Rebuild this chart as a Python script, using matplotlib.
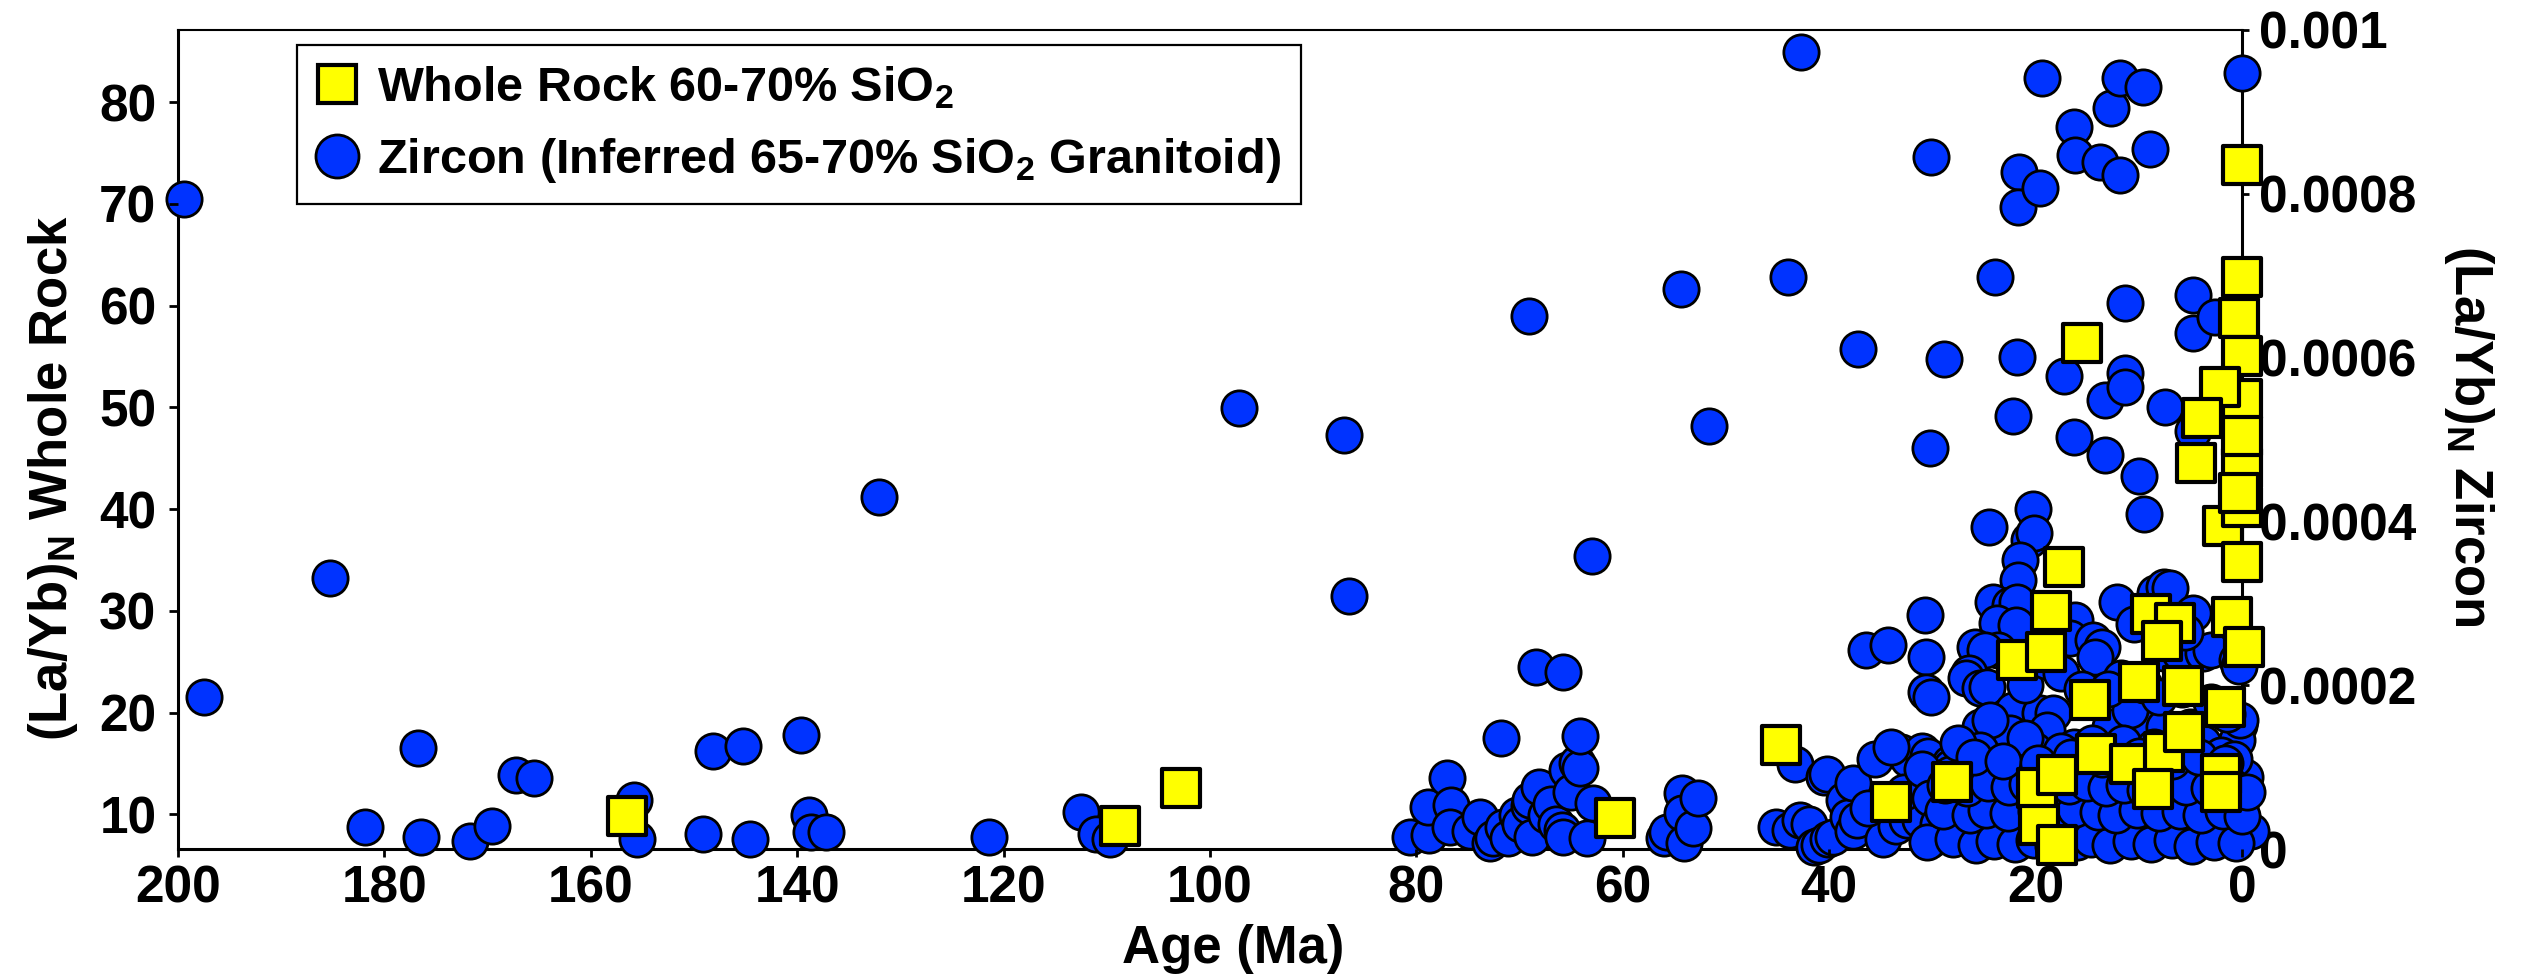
import matplotlib
matplotlib.use('Agg')
import matplotlib.pyplot as plt
from matplotlib.lines import Line2D
from matplotlib.ticker import FuncFormatter

# whole rock (La/Yb)N, 60-70% SiO2  -> left axis
wr_age = [156.5, 108.7, 102.8, 60.8, 44.7, 34.0, 28.1, 17.2, 18.5, 21.8,
          19.0, 14.7, 8.8, 6.5, 7.8, 10.0, 5.7, 1.6, 1.0, -0.2,
          1.8, 0.0, 4.5, 0.0, 0.0, 14.1, 10.9, 7.6, 5.6, 2.0,
          8.6, 19.9, 17.9, 19.7, 17.9, 2.0, 15.5, 0.0, 0.0, 0.3,
          0.0, 0.0, 2.1, 3.9, 0.0, 0.3]
wr_lr = [9.8, 8.9, 12.6, 9.65, 16.8, 11.2, 13.2, 34.3, 30.0, 25.2,
         26.0, 21.2, 29.7, 28.8, 27.0, 23.0, 22.6, 20.6, 29.4, 26.5,
         38.3, 34.8, 44.5, 44.0, 40.2, 15.9, 15.0, 16.1, 18.1, 14.0,
         12.5, 12.6, 13.9, 9.0, 7.0, 12.2, 56.3, 73.8, 62.8, 58.8,
         55.1, 50.8, 52.0, 49.0, 47.2, 41.6]

# zircon (La/Yb)N -> right axis, grouped by age range
zr_age_old = [199.4, 197.5, 185.3, 181.9, 176.7, 176.5, 171.7, 169.6, 167.2, 165.5,
              155.8, 155.5, 149.1, 148.2, 145.3, 144.6, 139.6, 138.9, 138.7, 137.2,
              132.1, 121.4, 112.5, 111.0, 109.7, 108.6, 97.2, 87.0, 86.5]
zr_lr_old = [0.000794, 0.000186, 0.000331, 0.000027, 0.000123, 0.000015, 0.000010, 0.000028, 0.000090, 0.000087,
             0.000060, 0.000012, 0.000018, 0.000120, 0.000126, 0.000012, 0.000139, 0.000041, 0.000021, 0.000021,
             0.000430, 0.000015, 0.000045, 0.000018, 0.000012, 0.000031, 0.000539, 0.000505, 0.000309]

zr_age_lk = [80.6, 78.8, 78.9, 77.0, 76.6, 76.7, 74.8, 73.8, 72.9, 72.6,
             71.6, 71.1, 70.3, 70.0, 69.1, 69.0, 68.8, 68.1, 67.4, 67.0,
             66.5, 65.9, 65.8, 65.4, 65.0, 64.4, 64.1, 63.5, 62.9, 71.8,
             64.1, 68.4, 65.8, 63.0, 69.1, 56.0, 55.7, 54.3, 54.3, 54.1,
             53.2, 52.7, 54.4, 51.6]
zr_lr_lk = [0.000015, 0.000017, 0.000051, 0.000087, 0.000054, 0.000027, 0.000022, 0.000039, 0.000007, 0.000013,
            0.000027, 0.000013, 0.000042, 0.000030, 0.000052, 0.000060, 0.000015, 0.000076, 0.000042, 0.000055,
            0.000030, 0.000023, 0.000015, 0.000096, 0.000070, 0.000105, 0.000099, 0.000013, 0.000056, 0.000135,
            0.000138, 0.000222, 0.000216, 0.000358, 0.000651, 0.000013, 0.000021, 0.000068, 0.000044, 0.000007,
            0.000026, 0.000062, 0.000684, 0.000516]

zr_age_eo = [45.2, 44.0, 43.8, 43.3, 42.8, 42.7, 42.0, 41.5, 41.0, 40.5,
             40.2, 40.1, 39.6, 38.6, 38.2, 37.7, 37.7, 37.2, 37.3, 36.4,
             34.3, 34.8, 33.5, 33.0, 32.5, 32.4, 31.0, 30.4, 31.2, 30.2,
             35.6, 34.0, 32.8, 36.2]
zr_lr_eo = [0.000027, 0.000698, 0.000023, 0.000104, 0.000035, 0.000973, 0.000030, 0.000003, 0.000005, 0.000088,
            0.000092, 0.000012, 0.000015, 0.000060, 0.000039, 0.000081, 0.000022, 0.000610, 0.000035, 0.000243,
            0.000249, 0.000012, 0.000028, 0.000119, 0.000035, 0.000110, 0.000120, 0.000114, 0.000035, 0.000011,
            0.000110, 0.000125, 0.000070, 0.000050]

zr_age_hi = [30.2, 30.1, 28.9, 23.9, 22.2, 21.8, 21.6, 21.7, 19.6, 19.4,
             17.2, 16.3, 16.2, 16.3, 13.8, 13.3, 13.3, 12.7, 11.8, 11.8,
             11.3, 11.3, 11.3, 10.0, 9.6, 9.5, 8.9, 7.5, 4.7, 4.7,
             2.6, 0.0, 4.7]
zr_lr_hi = [0.000490, 0.000845, 0.000598, 0.000698, 0.000529, 0.000601, 0.000827, 0.000784, 0.000807, 0.000941,
            0.000577, 0.000882, 0.000847, 0.000503, 0.000839, 0.000548, 0.000481, 0.000905, 0.000942, 0.000823,
            0.000667, 0.000581, 0.000564, 0.000455, 0.000930, 0.000409, 0.000855, 0.000540, 0.000676, 0.000630,
            0.000650, 0.000947, 0.000510]

zr_age_mid = [24.5, 20.6, 20.3, 20.2, 21.5, 21.7, 24.1, 22.5, 21.8, 23.7,
              21.9, 25.9, 23.6, 24.9, 26.5, 26.7, 25.4, 24.7, 30.7, 30.6,
              30.6, 30.1, 12.1, 8.4, 7.6, 7.0, 4.7, 16.2, 16.7, 14.4,
              13.6, 14.2, 11.7, 7.6, 6.0, 3.8, 3.0, 0.5, 0.3, 0.3,
              0.5, 0.2, 5.0, 22.2, 19.6, 18.3, 18.9, 23.4, 25.4, 20.2,
              16.3, 12.8, 9.9, 7.6, 12.5, 10.9, 22.5, 24.4, 25.4, 28.3,
              28.2, 22.2, 21.0, 19.0, 17.5, 15.5, 13.0, 9.5, 8.0, 5.8,
              3.0, 1.5, 10.5, 5.5]
zr_lr_mid = [0.000393, 0.000377, 0.000415, 0.000386, 0.000353, 0.000328, 0.000302, 0.000298, 0.000302, 0.000276,
             0.000273, 0.000247, 0.000243, 0.000243, 0.000215, 0.000209, 0.000197, 0.000198, 0.000286, 0.000235,
             0.000192, 0.000186, 0.000301, 0.000312, 0.000320, 0.000319, 0.000288, 0.000280, 0.000258, 0.000255,
             0.000247, 0.000235, 0.000209, 0.000239, 0.000239, 0.000239, 0.000243, 0.000231, 0.000224, 0.000151,
             0.000133, 0.000158, 0.000149, 0.000170, 0.000166, 0.000166, 0.000145, 0.000142, 0.000149, 0.000121,
             0.000125, 0.000149, 0.000158, 0.000149, 0.000117, 0.000170, 0.000142, 0.000158, 0.000121, 0.000105,
             0.000100, 0.000109, 0.000200, 0.000230, 0.000215, 0.000195, 0.000195, 0.000200, 0.000185, 0.000195,
             0.000180, 0.000165, 0.000275, 0.000265]

zr_age_low = [31.0, 28.3, 25.4, 23.5, 21.5, 19.3, 17.0, 15.2, 13.0, 11.0, 9.0, 7.0, 5.0, 3.0, 1.0, -0.3,
              30.2, 27.6, 26.0, 24.2, 22.3, 20.5, 18.5, 16.5, 14.3, 12.4, 10.5, 8.4, 6.5, 4.5, 2.2, 0.2,
              29.5, 27.0, 25.1, 23.0, 21.0, 19.0, 17.7, 15.8, 13.8, 11.8, 9.8, 7.7, 5.8, 3.5, 1.4, -0.9,
              30.5, 28.0, 25.8, 24.0, 22.0, 20.2, 18.3, 16.0, 14.6, 12.8, 10.8, 8.8, 6.8, 4.8, 2.7, 0.6,
              27.5, 21.0, 17.5, 14.5, 11.5, 8.5, 6.3, 3.8, 2.0, 0.8,
              29.0, 26.4, 24.8, 22.7, 20.0, 18.0, 16.2, 14.0, 12.2, 10.2, 8.0, 6.0, 4.0, 1.8, 0.0,
              28.8, 26.6, 24.6, 22.6, 20.8, 18.8, 16.8, 15.0, 13.2, 11.4, 9.4, 7.3, 5.4, 3.2, 1.2, -0.5,
              26.0, 23.2, 19.8, 16.6, 13.6, 10.0, 6.8, 4.2, 1.6]
zr_lr_low = [0.000098, 0.000092, 0.000095, 0.000090, 0.000098, 0.000093, 0.000097, 0.000090,
             0.000098, 0.000092, 0.000095, 0.000090, 0.000097, 0.000092, 0.000095, 0.000088,
             0.000062, 0.000058, 0.000065, 0.000056, 0.000062, 0.000058, 0.000064, 0.000057,
             0.000063, 0.000059, 0.000066, 0.000057, 0.000062, 0.000058, 0.000064, 0.000052,
             0.000030, 0.000035, 0.000028, 0.000033, 0.000027, 0.000031, 0.000026, 0.000034,
             0.000029, 0.000033, 0.000027, 0.000031, 0.000035, 0.000028, 0.000032, 0.000022,
             0.000008, 0.000012, 0.000005, 0.000010, 0.000006, 0.000011, 0.000004, 0.000009,
             0.000012, 0.000005, 0.000010, 0.000006, 0.000011, 0.000004, 0.000009, 0.000007,
             0.000130, 0.000135, 0.000120, 0.000130, 0.000130, 0.000125, 0.000122, 0.000130,
             0.000115, 0.000110,
             0.000046, 0.000042, 0.000048, 0.000044, 0.000047, 0.000043, 0.000049, 0.000045,
             0.000041, 0.000048, 0.000044, 0.000046, 0.000042, 0.000047, 0.000040,
             0.000078, 0.000074, 0.000080, 0.000076, 0.000079, 0.000073, 0.000077, 0.000081,
             0.000075, 0.000078, 0.000072, 0.000079, 0.000076, 0.000074, 0.000078, 0.000070,
             0.000112, 0.000108, 0.000105, 0.000112, 0.000110, 0.000114, 0.000108, 0.000112,
             0.000105]

zr_age = zr_age_old + zr_age_lk + zr_age_eo + zr_age_hi + zr_age_mid + zr_age_low
zr_lr = zr_lr_old + zr_lr_lk + zr_lr_eo + zr_lr_hi + zr_lr_mid + zr_lr_low

x_ticks = list(range(0, 201, 20))
left_ticks = list(range(10, 81, 10))
right_ticks = [0, 0.0002, 0.0004, 0.0006, 0.0008, 0.001]

legend_labels = [r'Whole Rock 60-70% SiO$_2$',
                 r'Zircon (Inferred 65-70% SiO$_2$ Granitoid)']

plt.rcParams['font.family'] = 'Liberation Sans'
plt.rcParams['font.weight'] = 'bold'
plt.rcParams['mathtext.fontset'] = 'custom'
plt.rcParams['mathtext.rm'] = 'Liberation Sans:bold'
plt.rcParams['mathtext.bf'] = 'Liberation Sans:bold'
plt.rcParams['mathtext.it'] = 'Liberation Sans:bold'
plt.rcParams['mathtext.default'] = 'rm'

W, H = 2526, 980
fig = plt.figure(figsize=(W / 100, H / 100), dpi=100)
ax = fig.add_axes([178 / W, 131 / H, 2064 / W, 819 / H])
ax2 = ax.twinx()

blue = '#0033ff'
yellow = '#ffff00'

ax2.scatter(zr_age, zr_lr, s=645, marker='o', c=blue, edgecolors='black',
            linewidths=2, clip_on=False, zorder=3)
ax.scatter(wr_age, wr_lr, s=740, marker='s', c=yellow, edgecolors='black',
           linewidths=3, clip_on=False, zorder=3)

# whole rock squares drawn over the zircon circles
ax.set_zorder(ax2.get_zorder() + 1)
ax.patch.set_visible(False)

ax.set_xlim(200, 0)
ax.set_ylim(6.6, 87.1)
ax2.set_ylim(0, 0.001)

ax.set_xticks(x_ticks)
ax.set_yticks(left_ticks)
ax2.set_yticks(right_ticks)
ax2.yaxis.set_major_formatter(FuncFormatter(lambda v, p: f'{v:g}'))

for s in ax.spines.values():
    s.set_visible(False)
for name in ['left', 'bottom', 'right']:
    ax2.spines[name].set_linewidth(2.2)
ax2.spines['top'].set_linewidth(1.5)

ax.tick_params(axis='x', direction='out', length=6, width=2, labelsize=37, pad=5)
ax.tick_params(axis='y', direction='out', length=6.5, width=2, labelsize=37, pad=9)
ax2.tick_params(axis='y', direction='out', length=5, width=2, labelsize=37, pad=7)

fig.text(1233 / W, (H - 963) / H, 'Age (Ma)', ha='center', va='baseline',
         fontsize=38, fontweight='bold')
fig.text(67 / W, (H - 478) / H, r'(La/Yb)$_N$ Whole Rock', rotation=90,
         rotation_mode='anchor', ha='center', va='baseline', fontsize=38)
fig.text(2455 / W, (H - 436) / H, r'(La/Yb)$_N$ Zircon', rotation=270,
         rotation_mode='anchor', ha='center', va='baseline', fontsize=38)

handles = [Line2D([], [], ls='none', marker='s', ms=27, mfc=yellow, mec='black', mew=3),
           Line2D([], [], ls='none', marker='o', ms=31, mfc=blue, mec='black', mew=2)]
leg = ax.legend(handles, legend_labels, loc='upper left',
                bbox_to_anchor=(297 / W, 1 - 45 / H), bbox_transform=fig.transFigure,
                fontsize=35, frameon=True, fancybox=False, edgecolor='black',
                framealpha=1, borderpad=0.4, labelspacing=0.5, handlelength=0.85,
                handletextpad=0.4, borderaxespad=0)
leg.get_frame().set_linewidth(1.6)

fig.savefig('out.png', dpi=100)
